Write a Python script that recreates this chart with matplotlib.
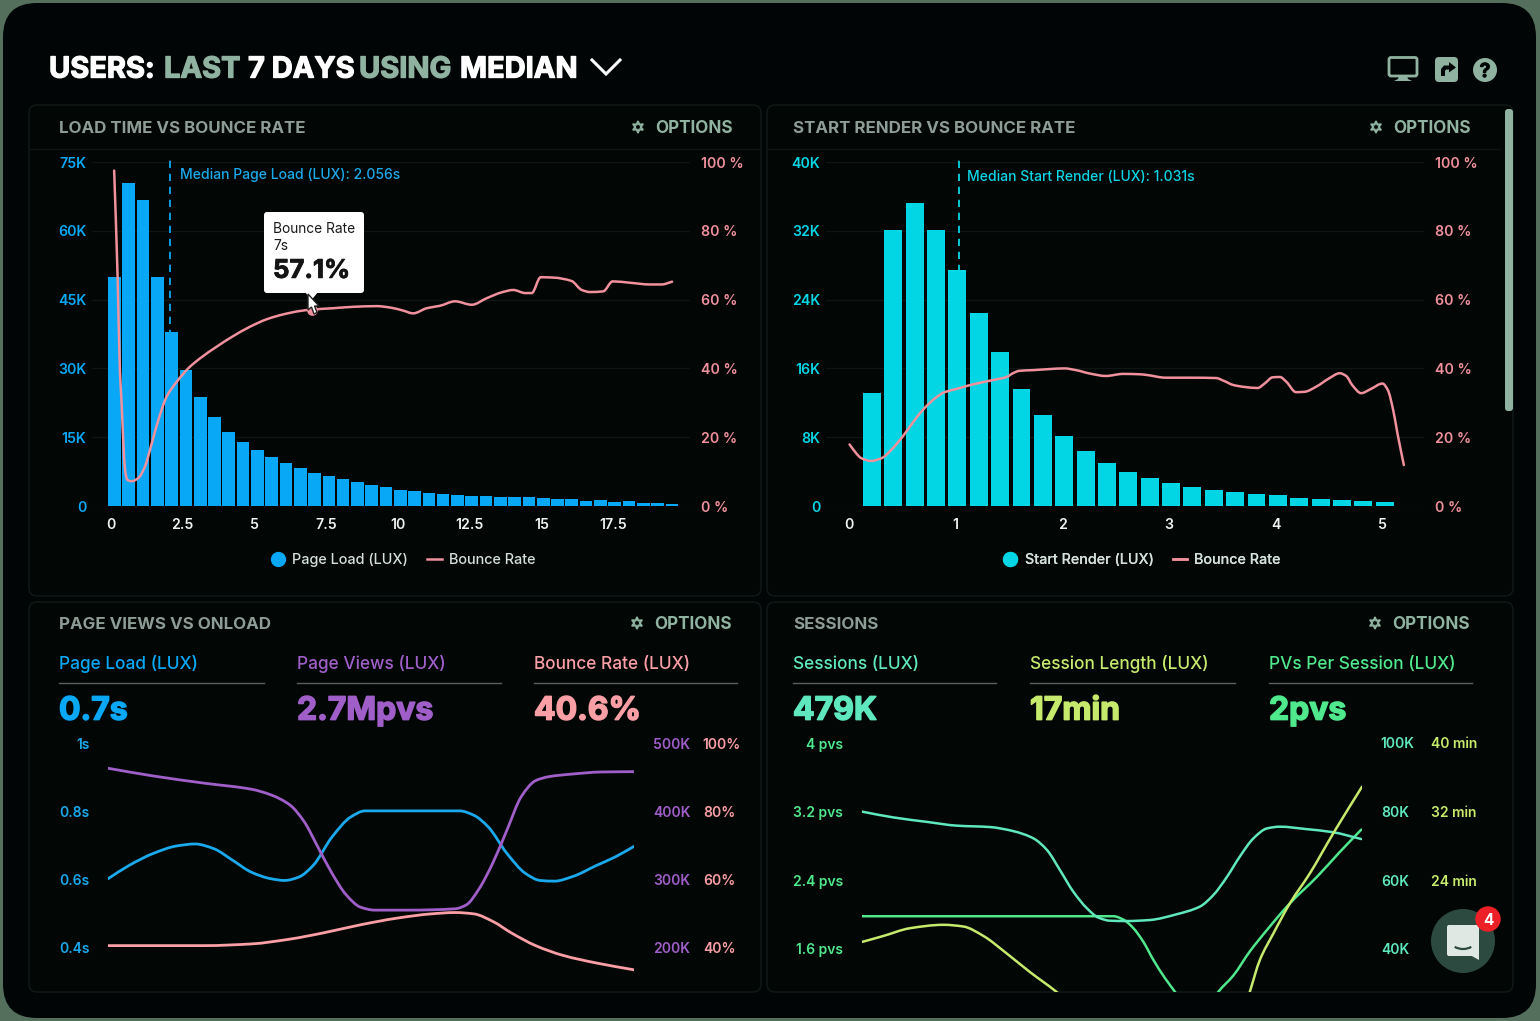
import matplotlib
matplotlib.use("Agg")
import matplotlib.pyplot as plt
import matplotlib.patheffects as pe
import numpy as np
from matplotlib.lines import Line2D
from matplotlib.path import Path
from matplotlib.patches import Circle, FancyBboxPatch, Polygon, PathPatch, Arc

# ---- dashboard values ------------------------------------------------------
page_load_counts = [49.9, 70.5, 66.8, 49.9, 37.9, 29.7, 23.7, 19.4, 16.2, 13.9,
                    12.2, 10.6, 9.45, 8.3, 7.3, 6.5, 5.9, 5.2, 4.6, 4.1,
                    3.5, 3.2, 2.9, 2.6, 2.4, 2.2, 2.2, 1.9, 1.9, 2.0,
                    1.67, 1.45, 1.45, 1.16, 1.23, 0.94, 1.0, 0.73, 0.73, 0.5]
load_bounce_x = [0.11, 0.23, 0.31, 0.37, 0.43, 0.49, 0.57, 0.72, 0.95, 1.18, 1.42, 1.65, 1.94,
                 2.29, 2.69, 3.10, 3.68, 4.26, 4.84, 5.43, 6.00, 6.59, 7.0, 7.75, 8.44, 9.26,
                 9.72, 10.18, 10.53, 11.0, 11.46, 11.99, 12.57, 13.09, 13.61, 14.02, 14.43,
                 14.66, 14.97, 15.41, 16.05, 16.40, 16.69, 17.15, 17.48, 18.08, 18.78, 19.19, 19.55]
load_bounce_y = [97.5, 66.7, 39.5, 29.9, 18.3, 10.5, 7.6, 7.2, 8.1, 11.4, 18.2, 25.0, 31.8,
                 36.1, 40.0, 42.9, 46.3, 49.4, 52.1, 54.3, 55.7, 56.7, 57.1, 57.5, 57.9, 58.1,
                 57.7, 56.8, 56.0, 57.5, 58.2, 59.5, 58.5, 60.4, 62.1, 62.8, 61.9,
                 61.9, 66.5, 66.4, 65.4, 62.8, 62.2, 62.4, 65.3, 64.9, 64.4, 64.4, 65.2]
median_load = 2.056
tooltip_second = 7
tooltip_bounce = 57.1

start_render_counts = [13.1, 32.1, 35.2, 32.1, 27.4, 22.4, 17.9, 13.6, 10.6, 8.1, 6.4, 5.0, 3.9,
                       3.3, 2.7, 2.2, 1.9, 1.67, 1.4, 1.24, 0.97, 0.85, 0.74, 0.62, 0.5]
render_bounce_x = [0.01, 0.06, 0.12, 0.21, 0.31, 0.40, 0.51, 0.62, 0.71, 0.81, 0.90, 1.01, 1.12,
                   1.23, 1.35, 1.48, 1.54, 1.60, 1.73, 1.88, 2.02, 2.13, 2.26, 2.41, 2.57, 2.72,
                   2.79, 2.97, 3.19, 3.44, 3.52, 3.60, 3.71, 3.83, 3.90, 3.97, 4.04, 4.10, 4.19,
                   4.27, 4.38, 4.50, 4.60, 4.66, 4.72, 4.80, 4.89, 5.00, 5.05, 5.10, 5.14, 5.20]
render_bounce_y = [17.9, 15.8, 13.9, 13.1, 13.9, 16.3, 20.3, 25.0, 28.4, 31.3, 33.1, 34.0, 35.0,
                   35.8, 36.6, 37.5, 38.6, 39.3, 39.5, 39.8, 40.0, 39.5, 38.5, 37.8, 38.4, 38.3,
                   38.1, 37.3, 37.3, 37.2, 36.3, 35.2, 34.6, 34.3, 35.7, 37.4, 37.5, 36.1, 33.1,
                   33.2, 34.7, 37.1, 38.6, 37.8, 35.0, 32.8, 34.0, 35.6, 33.7, 27.9, 21.1, 11.9]
median_render = 1.031

onload_days = [0, 0.28, 0.6, 0.91, 1.16, 1.41, 1.66, 1.91, 2.17, 2.35, 2.54, 2.73, 2.98, 3.23,
               3.42, 3.74, 4.18, 4.68, 4.87, 5.06, 5.31, 5.56, 5.75, 5.94, 6.19, 6.50, 6.75, 7.0]
onload_seconds = [0.602, 0.641, 0.676, 0.698, 0.704, 0.690, 0.656, 0.621, 0.602, 0.597, 0.607,
                  0.641, 0.724, 0.783, 0.801, 0.801, 0.801, 0.801, 0.788, 0.754, 0.676, 0.617,
                  0.597, 0.595, 0.609, 0.641, 0.666, 0.697]
views_days = [0, 0.6, 1.29, 1.91, 2.17, 2.42, 2.61, 2.79, 2.98, 3.17, 3.36, 3.55, 3.99, 4.62,
              4.77, 4.93, 5.12, 5.31, 5.50, 5.69, 5.87, 6.19, 6.56, 7.0]
views_k = [463, 451.7, 441, 432.2, 423.9, 409.2, 384.8, 348.2, 309.2, 277.4, 259.4, 255, 255, 257,
           262.8, 284.8, 323.9, 372.6, 421.4, 444.8, 450.7, 454.6, 457.5, 458]
bounce_days = [0, 0.6, 1.29, 1.91, 2.42, 2.86, 3.36, 3.86, 4.30, 4.62, 4.87, 5.12, 5.37, 5.69,
               6.06, 6.50, 7.0]
bounce_pct = [40.6, 40.6, 40.6, 41.1, 42.5, 44.3, 46.7, 48.7, 49.9, 50.3, 49.9, 47.7, 44.3, 40.6,
              37.7, 35.5, 33.5]

sessions_days = [0, 0.44, 0.91, 1.33, 1.79, 2.12, 2.40, 2.59, 2.77, 2.96, 3.15, 3.31, 3.47, 3.71,
                 4.03, 4.41, 4.73, 4.92, 5.11, 5.29, 5.48, 5.67, 5.85, 6.22, 6.59, 6.99]
sessions_k = [80.0, 78.3, 77.0, 75.9, 75.5, 74.3, 72.2, 68.8, 63.0, 56.6, 51.8, 49.1, 48.2, 48.1,
              48.4, 50.1, 52.3, 55.7, 61.0, 66.9, 72.2, 75.1, 75.6, 74.9, 74.0, 72.0]
length_days = [0, 0.30, 0.67, 1.14, 1.42, 1.70, 2.02, 2.35, 2.72, 3.33, 4.45, 5.22, 5.43, 5.57,
               5.76, 5.99, 6.27, 6.60, 7.0]
length_min = [16.8, 17.5, 18.4, 18.8, 18.6, 17.5, 15.5, 13.3, 11.0, 6.5, 5.4, 5.4, 11.0, 14.7,
              17.8, 21.3, 24.8, 29.5, 34.9]
pvs_days = [0, 3.29, 3.52, 3.66, 3.80, 3.94, 4.08, 4.24, 4.38, 4.69, 4.99, 5.20, 5.43, 5.67, 5.99,
            6.37, 6.69, 6.99]
pvs_values = [1.98, 1.98, 1.98, 1.94, 1.84, 1.68, 1.47, 1.26, 1.10, 0.71, 1.10, 1.29, 1.57, 1.82,
              2.13, 2.44, 2.73, 2.99]

# ---- palette and fonts -----------------------------------------------------
W, H = 1540, 1021
plt.rcParams["font.family"] = ["Inter", "DejaVu Sans"]
BG = "#020505"
EDGE = "#121a19"
GRID = "#0f1514"
SAGE = "#8fb3a0"
HEAD = "#8d9c95"
BLUE = "#08a8f6"
CYAN = "#02d6e4"
PINK = "#f0919d"
PURPLE = "#a05fc8"
TEAL = "#5fe8bd"
LIME = "#c6ea6c"
GREEN = "#4fe88c"
SOFT = "#d3e0da"

fig = plt.figure(figsize=(W / 100, H / 100), dpi=100, facecolor="#54705c")


def px_axes(left, top, right, bottom, z):
    ax = fig.add_axes([left / W, 1 - bottom / H, (right - left) / W, (bottom - top) / H], zorder=z)
    ax.patch.set_alpha(0)
    for s in ax.spines.values():
        s.set_visible(False)
    return ax


def overlay(z):
    ax = fig.add_axes([0, 0, 1, 1], zorder=z)
    ax.set_xlim(0, W)
    ax.set_ylim(H, 0)
    ax.axis("off")
    ax.patch.set_alpha(0)
    return ax


back = overlay(0)
front = overlay(10)


def label(ax, x, y, s, color, size, weight="normal", ha="left", stroke=0.0):
    """Place text with its capitals centred on y, whatever descenders it has."""
    t = ax.text(x, y + 0.505 * size, s, color=color, fontsize=size, fontweight=weight, ha=ha, va="baseline")
    if stroke:
        t.set_path_effects([pe.withStroke(linewidth=stroke, foreground=color)])
    return t


def spline(ax, xs, ys, color, lw, z=5):
    """Stroke a monotone cubic through the given readings, as the dashboard's line charts do."""
    x = np.asarray(xs, float)
    y = np.asarray(ys, float)
    h = np.diff(x)
    d = np.diff(y) / h
    m = np.zeros_like(x)
    m[0], m[-1] = d[0], d[-1]
    for i in range(1, len(x) - 1):
        if d[i - 1] * d[i] > 0:
            w1, w2 = 2 * h[i] + h[i - 1], h[i] + 2 * h[i - 1]
            m[i] = (w1 + w2) / (w1 / d[i - 1] + w2 / d[i])
    verts = [(x[0], y[0])]
    codes = [Path.MOVETO]
    for i in range(len(h)):
        verts += [(x[i] + h[i] / 3, y[i] + m[i] * h[i] / 3),
                  (x[i + 1] - h[i] / 3, y[i + 1] - m[i + 1] * h[i] / 3),
                  (x[i + 1], y[i + 1])]
        codes += [Path.CURVE4] * 3
    ax.add_patch(PathPatch(Path(verts, codes), fc="none", ec=color, lw=lw, capstyle="round",
                           joinstyle="round", zorder=z))


# device frame and panels
back.add_patch(FancyBboxPatch((3 + 34, 3 + 34), 1533 - 68, 1015 - 68, boxstyle="round,pad=34,rounding_size=34",
                              fc=BG, ec="none"))
panels = [(29, 105, 761, 596), (767, 105, 1513, 596), (29, 602, 761, 992), (767, 602, 1513, 992)]
for l, t, r, b in panels:
    back.add_patch(FancyBboxPatch((l + 8, t + 8), r - l - 16, b - t - 16, boxstyle="round,pad=8,rounding_size=8",
                                  fc="#020605", ec=EDGE, lw=1))
back.plot([30, 760], [149, 149], color=GRID, lw=1)
back.plot([768, 1500], [149, 149], color=GRID, lw=1)

# page title, one coloured run per phrase
title_runs = [(49, "USERS:", "white"), (164, "LAST", SAGE), (248, "7 DAYS", "white"),
              (359, "USING", SAGE), (460, "MEDIAN", "white")]
for x, s, c in title_runs:
    label(back, x, 67, s, c, 20.9, "bold", stroke=0.9)
back.plot([592, 606, 620], [60, 74, 60], color="white", lw=2.2, solid_joinstyle="miter")

# toolbar icons
back.add_patch(FancyBboxPatch((1390, 58.5), 26, 16.5, boxstyle="round,pad=1,rounding_size=2", fc="none", ec=SAGE, lw=2))
back.add_patch(Polygon([(1399, 76), (1407, 76), (1408, 79), (1412, 81), (1394, 81), (1398, 79)], fc=SAGE, ec="none"))
back.add_patch(FancyBboxPatch((1438, 60), 17, 19, boxstyle="round,pad=3,rounding_size=4", fc=SAGE, ec="none"))
back.add_patch(Polygon([(1441, 76), (1441, 69), (1444, 65.5), (1449, 65.5), (1449, 62), (1456, 67.5), (1449, 72.5),
                        (1449, 69.5), (1446, 69.5), (1445, 71), (1445, 76)], fc=BG, ec="none"))
back.add_patch(Circle((1485, 70), 12, fc=SAGE, ec="none"))
label(back, 1485, 70, "?", BG, 14, "bold", "center", stroke=0.6)

# scrollbar
back.add_patch(FancyBboxPatch((1506, 110), 6, 300, boxstyle="round,pad=1,rounding_size=3", fc=SAGE, ec="none"))

# panel headings
headings = [(59, 127, "LOAD TIME VS BOUNCE RATE", 655), (793, 127, "START RENDER VS BOUNCE RATE", 1393),
            (59, 623, "PAGE VIEWS VS ONLOAD", 654), (793, 623, "SESSIONS", 1392)]
for x, y, s, ox in headings:
    label(back, x, y, s, HEAD, 12.2, "bold")
    label(back, ox, y, "OPTIONS", SAGE, 12.3, "bold")
    back.scatter([ox - 17], [y], marker=(6, 1, 0), s=62, facecolors="none", edgecolors=SAGE, linewidths=1.5)


def histogram(frame, x_zero, x_scale, counts, offset, step, width, color, ymax, yticks, ylabels,
              xticks, xlabels, bounce_x, bounce_y, median):
    left, top, right, bottom = frame
    ax = px_axes(left, top, right, bottom, 2)
    ax.set_xlim((left - x_zero) / x_scale, (right - x_zero) / x_scale)
    ax.set_ylim(0, ymax)
    centers = offset + step * np.arange(len(counts))
    ax.plot([median, median], [0, ymax * 1.012], color=color, lw=1.3, ls=(0, (4, 3.2)), clip_on=False, zorder=1)
    ax.bar(centers, np.array(counts) * 1000, width=width, color=color, zorder=2)
    ax.set_yticks(yticks, ylabels, color=color, fontsize=10.2, fontweight="semibold")
    ax.set_xticks(xticks, xlabels, color="#eef3f0", fontsize=10.2, fontweight="semibold")
    ax.tick_params(axis="both", length=0)
    ax.tick_params(axis="y", pad=4)
    ax.tick_params(axis="x", pad=8.5)
    ax.grid(axis="y", color=GRID, lw=1)
    ax.set_axisbelow(True)
    twin = ax.twinx()
    twin.patch.set_alpha(0)
    for s in twin.spines.values():
        s.set_visible(False)
    twin.set_ylim(0, 100)
    pct = [0, 20, 40, 60, 80, 100]
    twin.set_yticks(pct, [f"{p} %" for p in pct], color=PINK, fontsize=10.2, fontweight="semibold")
    twin.tick_params(axis="y", length=0, pad=8)
    spline(twin, bounce_x, bounce_y, PINK, 1.8)
    return ax, twin


ax1, tw1 = histogram((92, 162, 690, 506), 111, 28.7, page_load_counts, 0.12, 0.498, 0.44, BLUE, 75000,
                     [0, 15000, 30000, 45000, 60000, 75000], ["0", "15K", "30K", "45K", "60K", "75K"],
                     [0, 2.5, 5, 7.5, 10, 12.5, 15, 17.5], ["0", "2.5", "5", "7.5", "10", "12.5", "15", "17.5"],
                     load_bounce_x, load_bounce_y, median_load)
ax2, tw2 = histogram((826, 162, 1424, 506), 848.5, 106.8, start_render_counts, 0.22, 0.2, 0.168, CYAN, 40000,
                     [0, 8000, 16000, 24000, 32000, 40000], ["0", "8K", "16K", "24K", "32K", "40K"],
                     [0, 1, 2, 3, 4, 5], ["0", "1", "2", "3", "4", "5"],
                     render_bounce_x, render_bounce_y, median_render)
tw1.scatter([tooltip_second], [tooltip_bounce], s=45, color=PINK, zorder=6)

label(back, 180, 174, f"Median Page Load (LUX): {median_load}s", "#1ba9ea", 10.05, "medium")
label(back, 967, 176, f"Median Start Render (LUX): {median_render}s", "#0bd4e4", 10.05, "medium")

# legends under the histograms
for center, color, name in [(403, BLUE, "Page Load (LUX)"), (1142, CYAN, "Start Render (LUX)")]:
    handles = [Line2D([], [], ls="none", marker="o", ms=10, color=color), Line2D([], [], color=PINK, lw=1.8)]
    leg = back.legend(handles, [name, "Bounce Rate"], ncol=2, loc="center", bbox_to_anchor=(center, 560),
                      bbox_transform=back.transData, frameon=False, labelcolor=SOFT,
                      handlelength=1.0, handletextpad=0.5, columnspacing=1.3, prop={"weight": "medium", "size": 10.4})
    back.add_artist(leg)

# summary figures above the line charts
stats = [(59, 264, "Page Load (LUX)", "0.7s", BLUE), (297, 501, "Page Views (LUX)", "2.7Mpvs", PURPLE),
         (534, 737, "Bounce Rate (LUX)", "40.6%", "#fb9fa6"), (793, 996, "Sessions (LUX)", "479K", TEAL),
         (1030, 1235, "Session Length (LUX)", "17min", LIME), (1269, 1472, "PVs Per Session (LUX)", "2pvs", GREEN)]
for x0, x1, name, value, color in stats:
    label(back, x0, 663, name, color, 12.45, "medium")
    back.plot([x0, x1], [683, 683], color="#5a605d", lw=1)
    label(back, x0, 708, value, color, 23, "bold", stroke=1.1)


def multi_axis(frame, y_sets, width):
    left, top, right, bottom = frame
    made = []
    for i, (ylim, ticks, labels_, color, xs, ys, side, pad) in enumerate(y_sets):
        ax = px_axes(left, top, right, bottom, 3 + i)
        ax.set_xlim(0, 7)
        ax.set_ylim(*ylim)
        ax.set_xticks([])
        ax.yaxis.set_ticks_position(side)
        ax.set_yticks(ticks, labels_, color=color, fontsize=10, fontweight="semibold")
        ax.tick_params(axis="y", length=0, pad=pad)
        spline(ax, xs, ys, color, width)
        made.append(ax)
    return made


multi_axis((108, 743, 634, 992), [
    ((0.27, 1.0), [0.4, 0.6, 0.8, 1.0], ["0.4s", "0.6s", "0.8s", "1s"], "#1aa9ec", onload_days, onload_seconds, "left", 13),
    ((135, 500), [200, 300, 400, 500], ["200K", "300K", "400K", "500K"], PURPLE, views_days, views_k, "right", 13.5),
    ((27, 100), [40, 60, 80, 100], ["40%", "60%", "80%", "100%"], "#fb9fa6", bounce_days, bounce_pct, "right", 49.5),
], 2.0)

multi_axis((862, 743, 1362, 991.7), [
    ((1.10, 4.0), [1.6, 2.4, 3.2, 4.0], ["1.6 pvs", "2.4 pvs", "3.2 pvs", "4 pvs"], GREEN, pvs_days, pvs_values, "left", 13.5),
    ((27.5, 100), [40, 60, 80, 100], ["40K", "60K", "80K", "100K"], TEAL, sessions_days, sessions_k, "right", 13.5),
    ((11.0, 40), [24, 32, 40], ["24 min", "32 min", "40 min"], LIME, length_days, length_min, "right", 49.5),
], 1.8)

# hover tooltip
front.add_patch(FancyBboxPatch((266, 214), 96, 77, boxstyle="round,pad=2,rounding_size=3", fc="white", ec="none"))
front.add_patch(Polygon([(305, 292), (318, 292), (311.5, 300)], fc="white", ec="none"))
label(front, 273, 228, "Bounce Rate", "#1a1a1a", 9.9)
label(front, 273, 245, f"{tooltip_second}s", "#1a1a1a", 9.9)
label(front, 273, 268.5, f"{tooltip_bounce}%", "#141414", 18.5, "bold", stroke=0.6)
front.add_patch(Polygon([(308, 294), (308, 310), (311.5, 307), (314, 314), (317, 312.5), (314.5, 306), (319, 306)],
                        fc="white", ec="#222222", lw=1))

# chat launcher
front.add_patch(Circle((1463, 941), 32, fc="#2d4a41", ec="none"))
front.add_patch(FancyBboxPatch((1449, 927), 28, 27, boxstyle="round,pad=2,rounding_size=2", fc="#dfe8e3", ec="none"))
front.add_patch(Polygon([(1470, 955), (1479, 955), (1479, 960)], fc="#dfe8e3", ec="none"))
front.add_patch(Arc((1463, 941), 24, 16, theta1=35, theta2=145, ec="#2d4a41", lw=1.6))
front.add_patch(Circle((1488, 919), 12.7, fc="#ee2027", ec="none"))
label(front, 1488, 919, "4", "white", 11, "bold", "center")

fig.savefig("out.png", dpi=100, facecolor=fig.get_facecolor())
